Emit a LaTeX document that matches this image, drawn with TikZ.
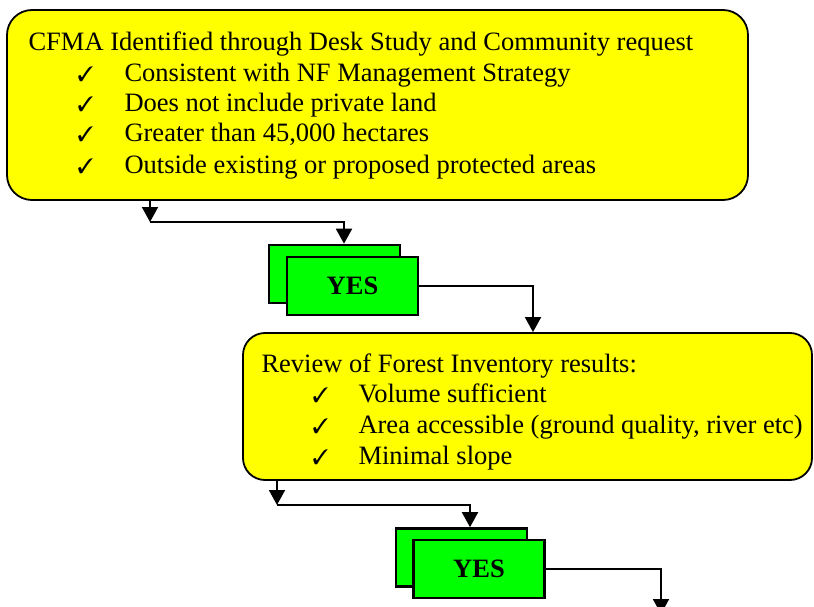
\documentclass[tikz,border=0pt]{standalone}
\usepackage{pifont}
\usepackage{fontspec}
\setmainfont{Liberation Serif}
\usetikzlibrary{arrows.meta}
\definecolor{boxyellow}{RGB}{255,255,0}
\definecolor{boxgreen}{RGB}{0,255,0}
\newcommand{\okmark}{{\fontsize{21}{30}\selectfont\ding{51}}}

\begin{document}
\begin{tikzpicture}[x=1pt, y=-1pt, font=\fontsize{26.5}{30}\selectfont,
    ybox/.style={draw, line width=1.8pt, fill=boxyellow, inner sep=0pt},
    gbox/.style={draw, line width=2.6pt, fill=boxgreen, minimum width=131pt, minimum height=58pt, inner sep=0pt},
    arr/.style={-{Triangle[width=16pt,length=15pt]}, line width=1.9pt},
    tick/.style={anchor=base west}]
    \useasboundingbox (0,0) rectangle (814,607);

    \node[ybox, rounded corners=25pt, minimum width=741pt, minimum height=190pt] (cfma) at (377.5,105) {};
    \node[tick] (cfma0) at (25,51) {CFMA Identified through Desk Study and Community request};
    \node[tick] (ck1) at (74,82) {\okmark};
    \node[tick] (cfma1) at (121,82) {Consistent with NF Management Strategy};
    \node[tick] (ck2) at (74,112) {\okmark};
    \node[tick] (cfma2) at (121,112) {Does not include private land};
    \node[tick] (ck3) at (74,142) {\okmark};
    \node[tick] (cfma3) at (121,142) {Greater than 45,000 hectares};
    \node[tick] (ck4) at (74,173) {\okmark};
    \node[tick] (cfma4) at (121,173) {Outside existing or proposed protected areas};

    \node[gbox] (yes1b) at (334.5,274) {};
    \node[gbox, font=\fontsize{26.5}{30}\selectfont\bfseries] (yes1) at (352.5,286) {YES};

    \node[ybox, rounded corners=22pt, minimum width=569pt, minimum height=147pt] (review) at (527.5,406.5) {};
    \node[tick] (rev0) at (258,372) {Review of Forest Inventory results:};
    \node[tick] (ck5) at (309,402) {\okmark};
    \node[tick] (rev1) at (355,402) {Volume sufficient};
    \node[tick] (ck6) at (309,433) {\okmark};
    \node[tick] (rev2) at (355,433) {Area accessible (ground quality, river etc)};
    \node[tick] (ck7) at (309,464) {\okmark};
    \node[tick] (rev3) at (355,464) {Minimal slope};

    \node[gbox] (yes2b) at (461.5,557.5) {};
    \node[gbox, font=\fontsize{26.5}{30}\selectfont\bfseries] (yes2) at (479,569) {YES};

    \coordinate (j1) at (150,222);
    \coordinate (j2) at (277,505);
    \coordinate (out) at (661,614);

    \draw[arr] (cfma.south -| j1) -- (j1);
    \draw[arr] (j1) -| ([xshift=9.5pt]yes1b.north);
    \draw[arr] (yes1.east) -| ([xshift=5.5pt]review.north);
    \draw[arr] (review.south -| j2) -- (j2);
    \draw[arr] (j2) -| ([xshift=8.5pt]yes2b.north);
    \draw[arr] (yes2.east) -| (out);
\end{tikzpicture}
\end{document}
